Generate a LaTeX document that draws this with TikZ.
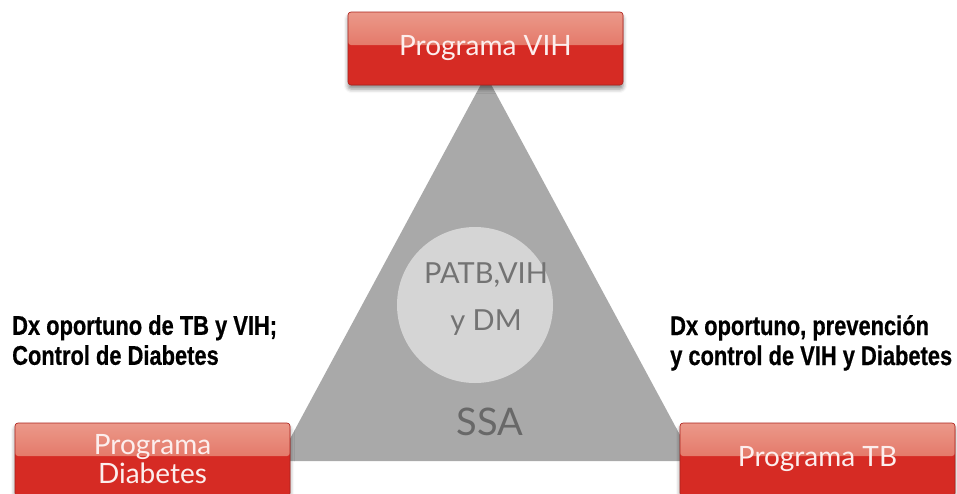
\documentclass[tikz,border=0pt]{standalone}
\usepackage{fontspec}
\setmainfont{Lato}
\newfontfamily\condfont{Liberation Sans}[FakeStretch=0.81, FakeBold=0.6]
\usepackage{tikz}
\usetikzlibrary{positioning, shadows.blur}
\definecolor{boxred}{HTML}{D62B24}
\definecolor{boxlight}{HTML}{EB998A}
\definecolor{boxmid}{HTML}{DD5443}
\definecolor{trigray}{HTML}{A9A9A9}
\definecolor{coregray}{HTML}{D5D5D5}
\definecolor{textgray}{HTML}{737373}

\begin{document}
\begin{tikzpicture}[x=1pt, y=-1pt,
    program/.style={rectangle, rounded corners=3pt, draw=boxred!80!black, line width=0.6pt,
      fill=boxred, minimum width=275pt, minimum height=73pt, inner sep=0pt,
      text=white!92!boxred, font=\fontsize{28}{29}\selectfont, align=center,
      blur shadow={shadow xshift=0pt, shadow yshift=-4pt, shadow blur radius=4pt, shadow opacity=45},
      path picture={\shade[top color=boxlight, bottom color=boxmid]
        (path picture bounding box.north west) rectangle ([yshift=-33pt]path picture bounding box.north east);}},
    remark/.style={inner sep=0pt, align=left, anchor=north west,
      font=\condfont\bfseries\fontsize{27}{30}\selectfont}]

    \useasboundingbox (0,0) rectangle (957,493);
    \clip (0,0) rectangle (957,493);

    % Triangle
    \coordinate (apex) at (486,75);
    \coordinate (base_l) at (278,461);
    \coordinate (base_r) at (694,461);
    \fill[trigray] (apex) -- (base_r) -- (base_l) -- cycle;

    % Core circle
    \node[circle, fill=coregray, minimum size=156pt, inner sep=0pt] (core) at (475,305) {};
    \node[text=textgray, font=\fontsize{29}{30}\selectfont, inner sep=0pt, anchor=base] (core_top) at (486,283) {PATB,VIH};
    \node[text=textgray, font=\fontsize{29}{30}\selectfont, inner sep=0pt, anchor=base] (core_bot) at (486,330) {y DM};
    \node[text=textgray!90!black, font=\fontsize{38}{40}\selectfont, inner sep=0pt, anchor=base] (ssa) at (490,435) {SSA};

    % Programs
    \node[program] (prog_vih) at (485.5,48.5) {Programa VIH};
    \node[program] (prog_dm) at (152.5,459.5) {Programa\\Diabetes};
    \node[program] (prog_tb) at (817.5,459.5) {Programa TB};

    % Remarks
    \node[remark] (note_left) at (12,315) {Dx oportuno de TB y VIH;\\Control de Diabetes};
    \node[remark] (note_right) at (670,315) {Dx oportuno, prevención\\y control de VIH y Diabetes};
\end{tikzpicture}
\end{document}
